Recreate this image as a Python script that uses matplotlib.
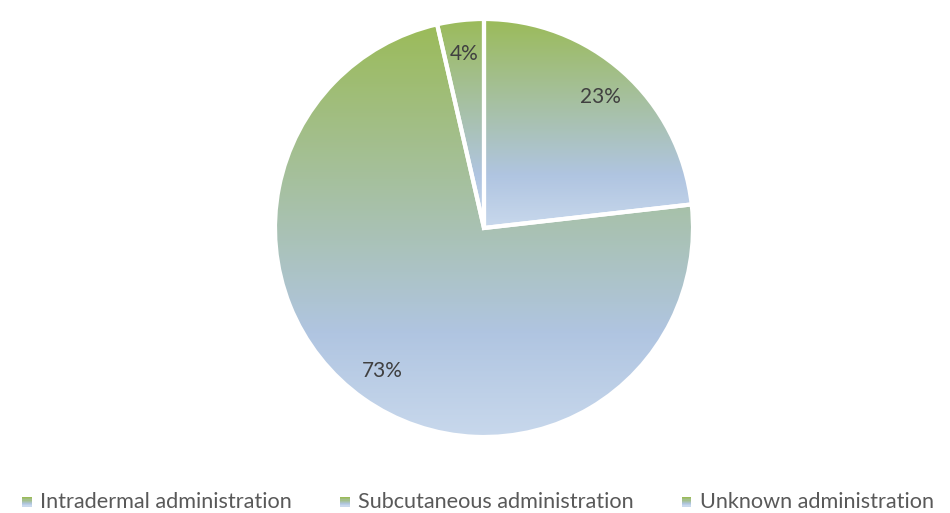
import numpy as np
import matplotlib
matplotlib.use("Agg")
import matplotlib.pyplot as plt
from matplotlib.patches import Rectangle
from matplotlib.legend_handler import HandlerBase
from matplotlib.colors import LinearSegmentedColormap

plt.rcParams['font.family'] = ['Lato', 'DejaVu Sans']

# data
labels = ["Intradermal administration", "Subcutaneous administration",
          "Unknown administration"]
shares = [23.2, 73.2, 3.6]

# green -> blue -> light blue, as in the office gradient fill
grad = LinearSegmentedColormap.from_list(
    "grad", [(0.0, "#9bbb59"), (0.75, "#b0c5e1"), (1.0, "#c8d8ec")])


class GradientHandler(HandlerBase):
    def create_artists(self, legend, orig_handle, xdescent, ydescent,
                       width, height, fontsize, trans):
        size = width
        x0 = xdescent
        y0 = -ydescent + (height - size)/2 - 1
        n = 8
        arts = []
        for i in range(n):
            r = Rectangle((x0, y0 + size*(n - 1 - i)/n), size, size/n,
                          facecolor=grad(i/(n - 1)), edgecolor="none",
                          transform=trans)
            arts.append(r)
        return arts


fig = plt.figure(figsize=(9.5, 5.13), dpi=100)
cx, cy, rad = 484, 513 - 228, 209
ax = fig.add_axes([(cx - rad)/950, (cy - rad)/513, 2*rad/950, 2*rad/513])

wedges, texts, autotexts = ax.pie(
    shares, startangle=90, counterclock=False, radius=1,
    autopct=lambda p: f"{p:.0f}%", pctdistance=0.84,
    wedgeprops=dict(edgecolor="white", linewidth=3, facecolor="none"),
    textprops=dict(color="#404040", fontsize=15))

gimg = np.linspace(0, 1, 256).reshape(-1, 1)
for w in wedges:
    ext = w.get_path().get_extents(w.get_patch_transform())
    im = ax.imshow(gimg, cmap=grad, aspect="auto", origin="upper",
                   extent=[ext.x0, ext.x1, ext.y0, ext.y1], zorder=0.5,
                   interpolation="bilinear")
    im.set_clip_path(w)

ax.set_xlim(-1, 1)
ax.set_ylim(-1, 1)
ax.set_aspect("equal")
ax.axis("off")

handles = [Rectangle((0, 0), 1, 1) for _ in labels]
fig.legend(handles, labels, loc="center", bbox_to_anchor=(478/950, 11/513),
           ncol=3, frameon=False, fontsize=15.6, handlelength=0.45,
           handletextpad=0.4, columnspacing=2.2, labelcolor="#595959",
           borderpad=0, borderaxespad=0,
           handler_map={Rectangle: GradientHandler()})

fig.savefig("out.png", dpi=100)
